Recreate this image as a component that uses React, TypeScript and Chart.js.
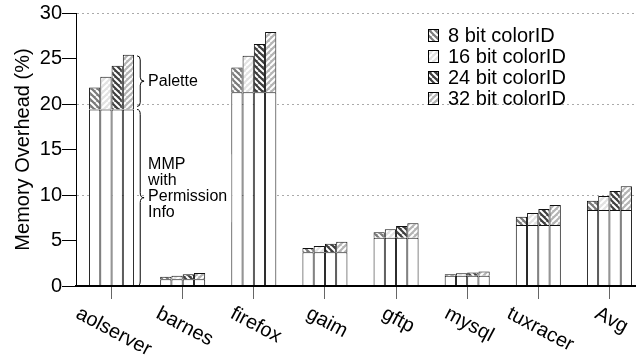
import React, { useEffect, useRef } from 'react';
import { Chart, registerables } from 'chart.js';

Chart.register(...registerables);

// ---- data ----
const categories = ['aolserver', 'barnes', 'firefox', 'gaim', 'gftp', 'mysql', 'tuxracer', 'Avg'];
const mmpBase = [19.4, 0.75, 21.3, 3.7, 5.3, 1.12, 6.7, 8.35];
const palette8 = [2.4, 0.27, 2.7, 0.48, 0.62, 0.18, 0.9, 1.03];
const palette16 = [3.6, 0.38, 4.0, 0.7, 0.95, 0.27, 1.33, 1.55];
const palette24 = [4.8, 0.55, 5.3, 0.95, 1.3, 0.36, 1.76, 2.08];
const palette32 = [6.0, 0.67, 6.6, 1.15, 1.6, 0.46, 2.2, 2.62];
const seriesLabels = ['8 bit colorID', '16 bit colorID', '24 bit colorID', '32 bit colorID'];
const yTitle = 'Memory Overhead (%)';
const yMin = 0;
const yMax = 30;
const yStep = 5;
const gridEvery = 10;
const paletteNote = 'Palette';
const mmpNote = ['MMP', 'with', 'Permission', 'Info'];

const FAMILY = '"Liberation Sans", Arial, Helvetica, sans-serif';

function makePattern(bg: string, dir: 'back' | 'fwd'): CanvasPattern | string {
  const s = 6;
  const c = document.createElement('canvas');
  c.width = s;
  c.height = s;
  const g = c.getContext('2d');
  if (!g) return bg;
  g.fillStyle = bg;
  g.fillRect(0, 0, s, s);
  g.strokeStyle = '#ffffff';
  g.lineWidth = 2;
  g.beginPath();
  for (const k of [-s, 0, s]) {
    if (dir === 'back') {
      g.moveTo(k, 0);
      g.lineTo(k + s, s);
    } else {
      g.moveTo(k, s);
      g.lineTo(k + s, 0);
    }
  }
  g.stroke();
  return g.createPattern(c, 'repeat') || bg;
}

function brace(ctx: CanvasRenderingContext2D, x0: number, y1: number, y2: number, w: number, r: number) {
  const xm = x0 + w * 0.45;
  const ym = (y1 + y2) / 2;
  ctx.beginPath();
  ctx.moveTo(x0, y1);
  ctx.quadraticCurveTo(xm, y1, xm, y1 + r);
  ctx.lineTo(xm, ym - r);
  ctx.quadraticCurveTo(xm, ym, x0 + w, ym);
  ctx.quadraticCurveTo(xm, ym, xm, ym + r);
  ctx.lineTo(xm, y2 - r);
  ctx.quadraticCurveTo(xm, y2, x0, y2);
  ctx.stroke();
  return ym;
}

export default function App() {
  const ref = useRef<HTMLCanvasElement>(null);

  useEffect(() => {
    document.body.style.margin = '0';
    const canvas = ref.current;
    if (!canvas) return;

    const fills = [
      makePattern('#7a7a7a', 'back'),
      makePattern('#e2e2e2', 'fwd'),
      makePattern('#3e3e3e', 'back'),
      makePattern('#b4b4b4', 'fwd'),
    ];
    const pals = [palette8, palette16, palette24, palette32];
    const datasets: any[] = [];
    pals.forEach((p, i) => {
      datasets.push({
        label: 'MMP',
        data: mmpBase,
        backgroundColor: '#ffffff',
        borderColor: '#111111',
        borderWidth: 1,
        stack: 's' + i,
      });
      datasets.push({
        label: seriesLabels[i],
        data: p,
        backgroundColor: fills[i],
        borderColor: '#111111',
        borderWidth: 1,
        stack: 's' + i,
      });
    });

    const overlay = {
      id: 'overlay',
      afterDraw(chart: any) {
        const ctx: CanvasRenderingContext2D = chart.ctx;
        const xs = chart.scales.x;
        const ys = chart.scales.y;
        ctx.save();
        ctx.fillStyle = '#000';
        ctx.strokeStyle = '#000';

        // x labels, rotated clockwise
        const theta = (28 * Math.PI) / 180;
        ctx.font = `20px ${FAMILY}`;
        ctx.textAlign = 'center';
        ctx.textBaseline = 'middle';
        const topY = xs.bottom + 7;
        categories.forEach((lab, i) => {
          const px = xs.getPixelForValue(i);
          const w = ctx.measureText(lab).width;
          const cy = topY + (w / 2) * Math.sin(theta) + 7.3 * Math.cos(theta);
          ctx.save();
          ctx.translate(px + 2, cy);
          ctx.rotate(theta);
          ctx.fillText(lab, 0, 0);
          ctx.restore();
        });

        // braces
        const meta = chart.getDatasetMeta(7);
        const el = meta.data[0];
        const props = el.getProps(['x', 'width'], true);
        const x0 = props.x + props.width / 2 + 3;
        const bw = 7;
        ctx.lineWidth = 1;
        const topPal = ys.getPixelForValue(mmpBase[0] + palette32[0]);
        const baseY = ys.getPixelForValue(mmpBase[0]);
        const zeroY = ys.getPixelForValue(0);
        ctx.font = `16px ${FAMILY}`;
        ctx.textAlign = 'left';
        ctx.textBaseline = 'middle';
        // white backdrop behind the annotation text block (hides gridline)
        const tx = x0 + bw + 4;
        const ymMMP = (baseY + zeroY) / 2;
        let maxW = 0;
        mmpNote.forEach((t) => {
          maxW = Math.max(maxW, ctx.measureText(t).width);
        });
        ctx.fillStyle = '#ffffff';
        ctx.fillRect(tx - 4, ymMMP - 33.5 - 10, maxW + 8, 3 * 16 + 20);
        ctx.fillStyle = '#000';
        const ym1 = brace(ctx, x0, topPal + 1, baseY - 3, bw, 4);
        const ym2 = brace(ctx, x0, baseY, zeroY, bw, 5);
        ctx.fillText(paletteNote, tx, ym1);
        mmpNote.forEach((t, i) => {
          ctx.fillText(t, tx, ym2 - 33.5 + i * 16);
        });

        // legend
        ctx.font = `20px ${FAMILY}`;
        ctx.textBaseline = 'alphabetic';
        const lx = 428;
        const ly0 = 42.3;
        const dy = 20.8;
        seriesLabels.forEach((lab, i) => {
          const by = ly0 + i * dy;
          const ry = Math.round(by - 13) + 0.5;
          ctx.fillStyle = fills[i] as any;
          ctx.fillRect(lx + 0.5, ry, 10, 12);
          ctx.strokeStyle = '#000';
          ctx.strokeRect(lx + 0.5, ry, 10, 12);
          ctx.fillStyle = '#000';
          ctx.fillText(lab, lx + 20, by);
        });
        ctx.restore();
      },
    };

    const chart = new Chart(canvas, {
      type: 'bar',
      data: { labels: categories, datasets },
      options: {
        responsive: false,
        animation: false,
        devicePixelRatio: 1,
        events: [],
        layout: { padding: { left: 0, top: 13, right: 0, bottom: 57 } },
        datasets: { bar: { categoryPercentage: 0.633, barPercentage: 1 } } as any,
        plugins: { legend: { display: false }, tooltip: { enabled: false } },
        scales: {
          x: {
            stacked: true,
            ticks: { display: false },
            grid: {
              display: true,
              drawOnChartArea: false,
              drawTicks: true,
              tickLength: 13,
              color: '#666666',
              offset: false,
            },
            border: { display: true, color: '#000000', width: 2, z: 1 } as any,
          },
          y: {
            stacked: true,
            min: yMin,
            max: yMax,
            ticks: {
              stepSize: yStep,
              padding: 0,
              color: '#000000',
              font: { family: FAMILY, size: 20 },
            },
            grid: {
              color: (c: any) =>
                c.tick && c.tick.value > 0 && c.tick.value % gridEvery === 0 ? '#aaaaaa' : 'rgba(0,0,0,0)',
              tickColor: '#000000',
              tickLength: 14,
              lineWidth: 1,
            },
            border: { display: true, color: '#000000', width: 1, dash: [2, 3] },
            title: {
              display: true,
              text: yTitle,
              color: '#000000',
              font: { family: FAMILY, size: 20 },
              padding: { top: 11, bottom: 0 },
            },
            afterFit: (s: any) => {
              s.width = 76;
            },
          } as any,
        },
      },
      plugins: [overlay],
    });
    return () => chart.destroy();
  }, []);

  return (
    <div
      style={{
        position: 'absolute',
        left: 0,
        top: 0,
        width: 636,
        height: 356,
        overflow: 'hidden',
        background: '#ffffff',
      }}
    >
      <canvas ref={ref} width={645} height={356} style={{ display: 'block', width: 645, height: 356 }} />
    </div>
  );
}
